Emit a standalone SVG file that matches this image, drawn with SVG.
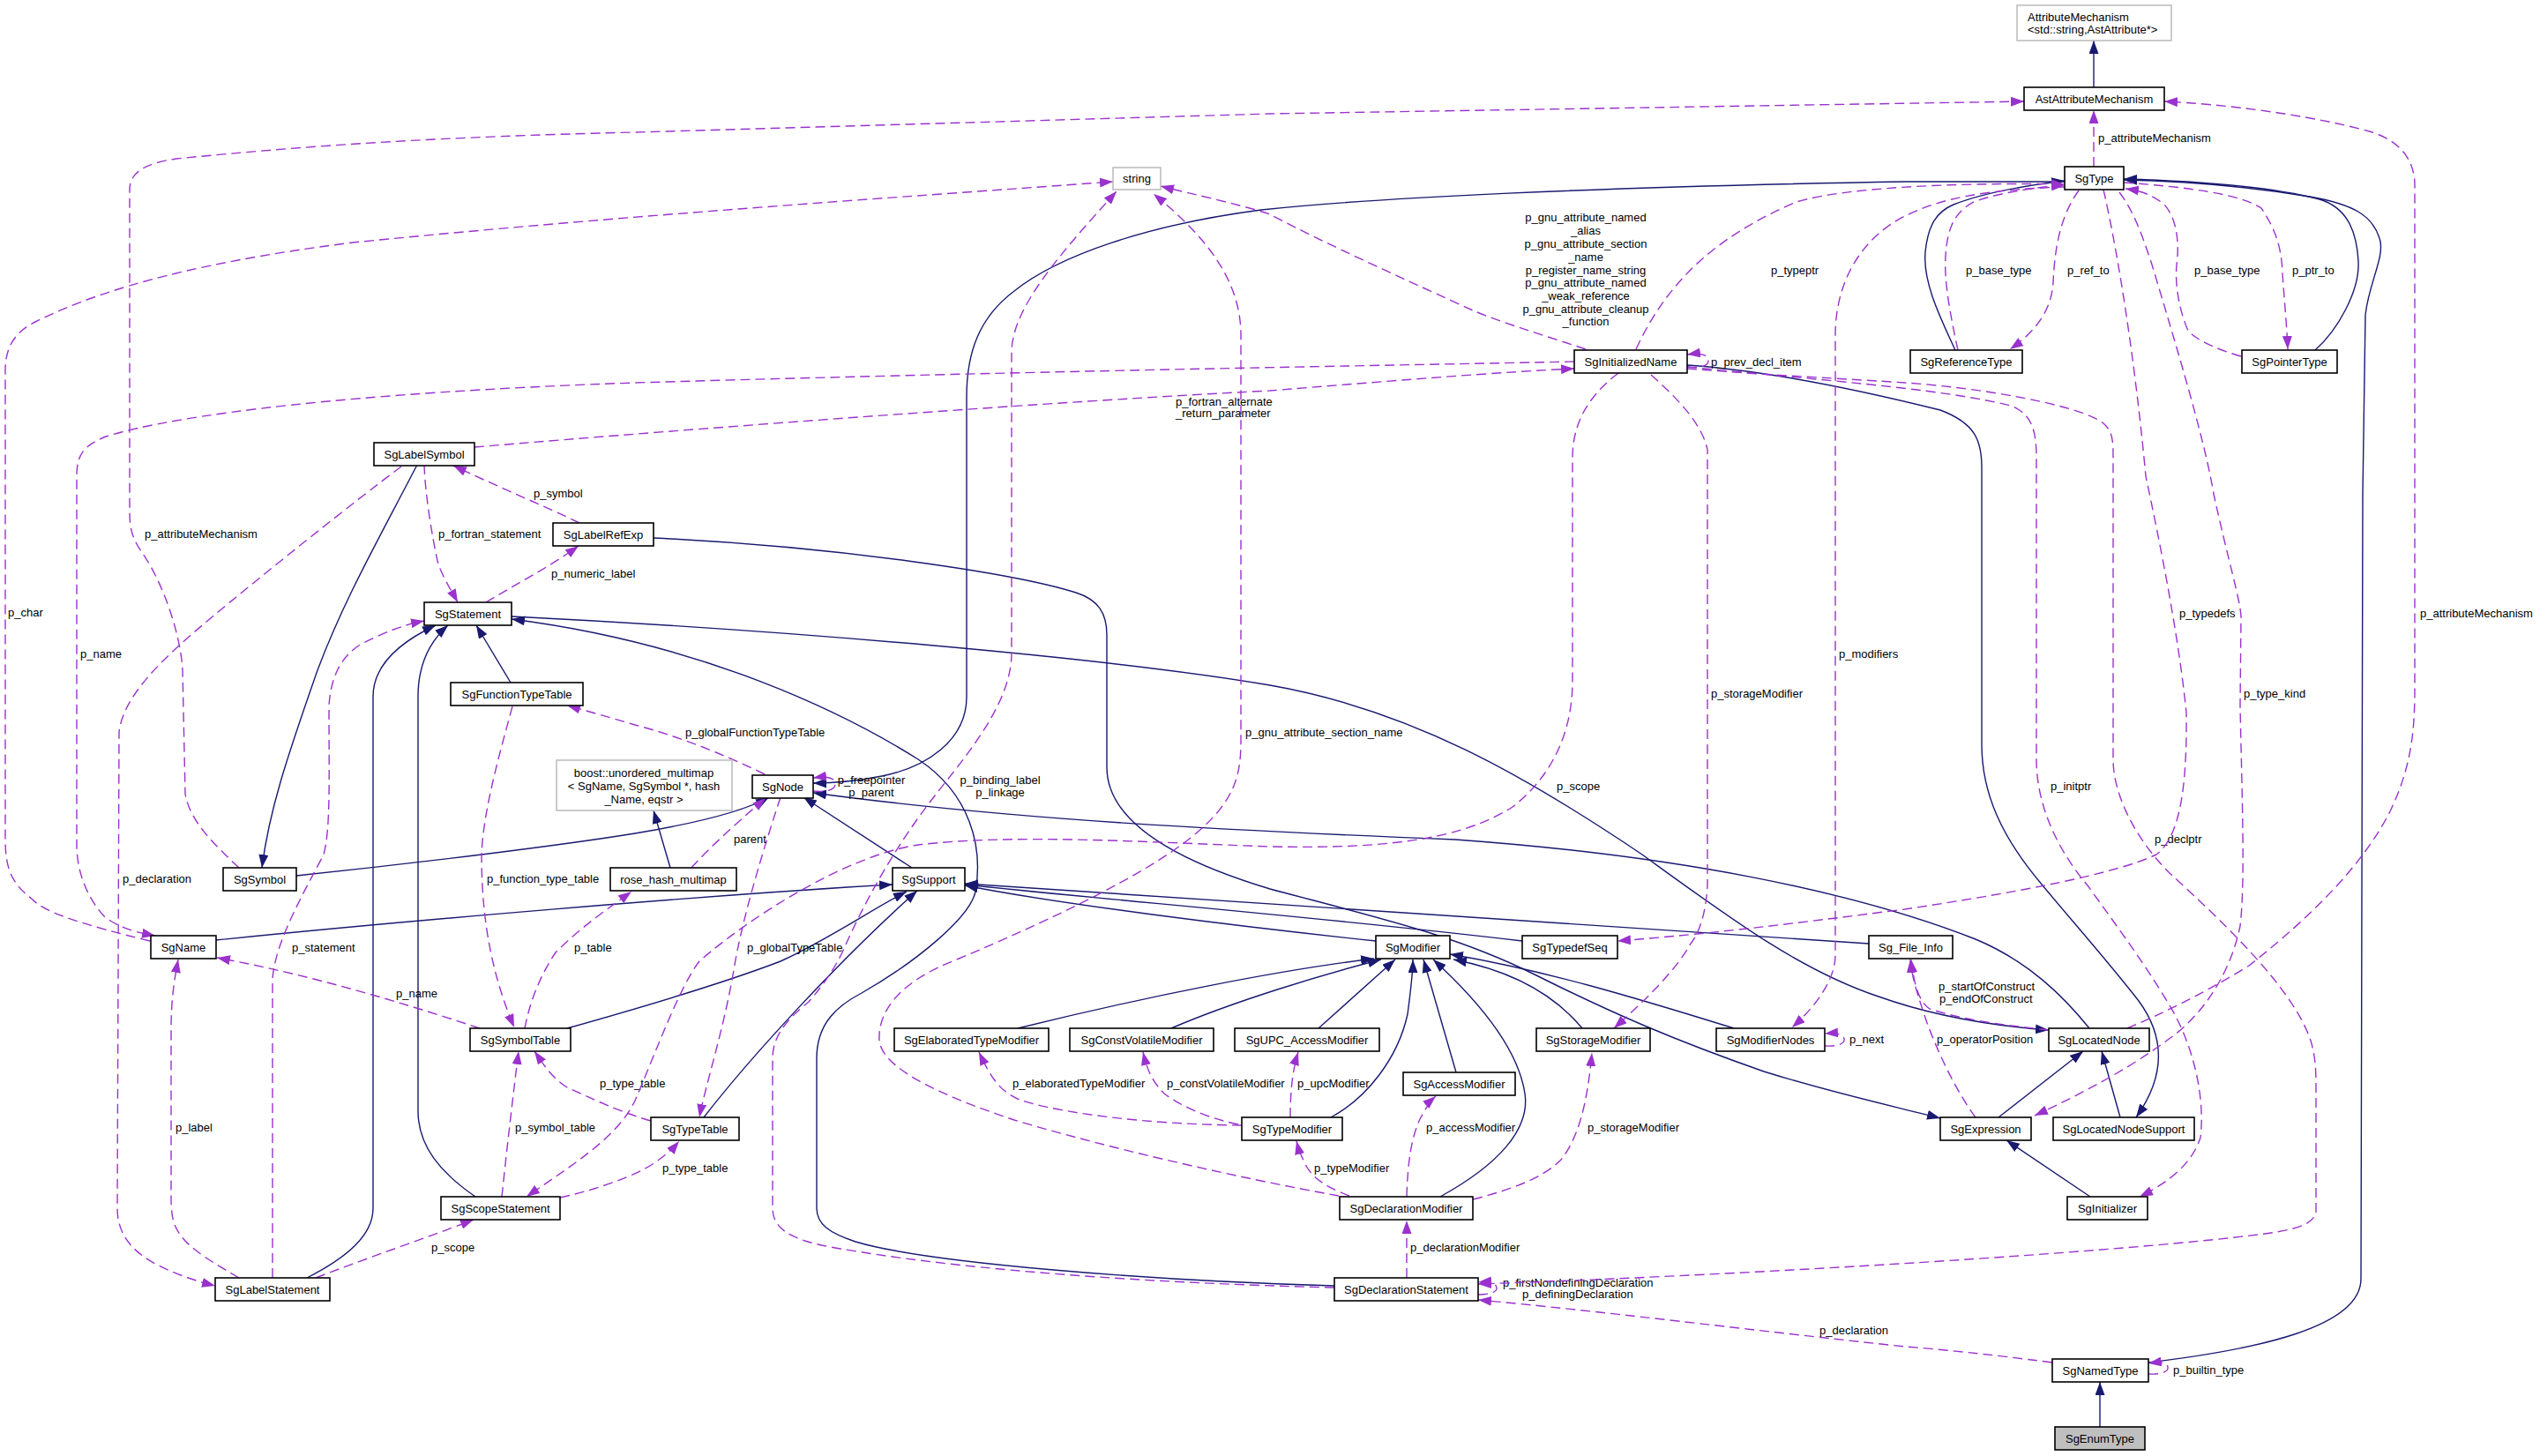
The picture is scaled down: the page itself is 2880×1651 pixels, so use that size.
<svg xmlns="http://www.w3.org/2000/svg" width="2880" height="1651" viewBox="0 0 2880 1651">
<style>
.node rect{fill:#fff;stroke:#000;stroke-width:1.6}
.ext rect{fill:#fff;stroke:#bfbfbf;stroke-width:1.6}
.cur rect{fill:#bfbfbf;stroke:#000;stroke-width:1.6}
text{font-family:"Liberation Sans",Arial,sans-serif;font-size:13px;fill:#000}
.node text,.cur text{text-anchor:middle}
.inh{fill:none;stroke:#191970;stroke-width:1.4;marker-end:url(#an)}
.use{fill:none;stroke:#9a32cd;stroke-width:1.4;stroke-dasharray:11,6;marker-end:url(#ap)}
</style>
<defs>
<marker id="an" markerUnits="userSpaceOnUse" markerWidth="15" markerHeight="11" viewBox="0 0 15 11" refX="15" refY="5.5" orient="auto"><path d="M0,0 L15,5.5 L0,11 z" fill="#191970"/></marker>
<marker id="ap" markerUnits="userSpaceOnUse" markerWidth="15" markerHeight="11" viewBox="0 0 15 11" refX="15" refY="5.5" orient="auto"><path d="M0,0 L15,5.5 L0,11 z" fill="#9a32cd"/></marker>
</defs>
<rect width="2880" height="1651" fill="#fff"/>
<g id="connectors">
<path class="inh" d="M2374,99 L2374,46"/>
<path class="inh" d="M2217,397 C2200,360 2180,320 2183,286 C2186,255 2196,240 2215,232 C2250,218 2300,210 2341,205"/>
<path class="inh" d="M2625,397 C2650,375 2676,330 2674,296 C2672,260 2660,235 2630,226 C2570,210 2480,205 2408,203"/>
<path class="inh" d="M2436,1545 C2560,1530 2677,1505 2677,1450 L2679,560 L2682,357 C2686,320 2705,290 2698,270 C2690,245 2670,232 2619,223 C2540,210 2460,205 2408,204"/>
<path class="inh" d="M2381,1618 L2381,1567"/>
<path class="inh" d="M2341,206 L2160,206 C1800,212 1550,225 1430,238 C1300,255 1200,290 1150,330 C1110,360 1096,400 1096,450 L1096,790 C1096,840 1050,870 1000,880 C970,886 945,888 922,888"/>
<path class="inh" d="M473,527 C430,610 390,680 360,760 C325,860 305,920 297,984"/>
<path class="inh" d="M336,993 C480,978 640,958 720,945 C780,935 840,922 872,904"/>
<path class="inh" d="M245,1066 C450,1045 800,1015 1012,1003"/>
<path class="inh" d="M760,984 L741,919"/>
<path class="inh" d="M1034,984 L911,904"/>
<path class="inh" d="M579,774 L540,709"/>
<path class="inh" d="M539,1357 C500,1330 474,1300 474,1260 L474,790 C474,750 490,725 508,709"/>
<path class="inh" d="M348,1449 C395,1425 423,1400 423,1370 L423,790 C423,750 460,725 494,709"/>
<path class="inh" d="M1513,1458 C1300,1452 1050,1432 970,1408 C940,1398 926,1388 926,1370 L926,1200 C926,1160 950,1140 977,1126 C1040,1090 1100,1040 1106,1011 C1115,960 1100,900 1041,861 C960,810 800,730 580,702"/>
<path class="inh" d="M580,699 C900,715 1250,745 1440,777 C1600,805 1730,880 1862,969 C1960,1040 2040,1100 2130,1130 C2200,1155 2270,1164 2323,1168"/>
<path class="inh" d="M741,610 C950,620 1150,650 1220,672 C1245,680 1255,695 1255,720 L1255,870 C1255,930 1330,975 1440,1008 C1560,1040 1650,1060 1740,1105 C1830,1150 1900,1180 2000,1215 C2080,1240 2150,1255 2200,1268"/>
<path class="inh" d="M2369,1166 C2340,1130 2300,1090 2240,1065 C2100,1010 1900,970 1650,952 C1400,942 1150,930 922,899"/>
<path class="inh" d="M1560,1067 C1400,1050 1200,1025 1094,1004"/>
<path class="inh" d="M1726,1067 C1500,1040 1250,1020 1094,1003"/>
<path class="inh" d="M2119,1070 C1700,1040 1300,1015 1094,1002"/>
<path class="inh" d="M643,1166 C700,1150 820,1115 885,1090 C940,1065 990,1030 1028,1011"/>
<path class="inh" d="M798,1267 C850,1200 950,1090 1040,1010"/>
<path class="inh" d="M1154,1166 C1300,1130 1450,1100 1558,1087"/>
<path class="inh" d="M1328,1166 C1400,1135 1500,1105 1566,1088"/>
<path class="inh" d="M1495,1166 L1582,1088"/>
<path class="inh" d="M1509,1267 C1550,1245 1585,1200 1596,1150 C1600,1120 1602,1100 1602,1088"/>
<path class="inh" d="M1651,1216 L1614,1088"/>
<path class="inh" d="M1633,1357 C1700,1320 1735,1280 1729,1240 C1720,1180 1660,1120 1625,1088"/>
<path class="inh" d="M1794,1166 C1760,1125 1710,1100 1648,1088"/>
<path class="inh" d="M1966,1166 C1850,1130 1750,1100 1644,1082"/>
<path class="inh" d="M2266,1267 L2362,1192"/>
<path class="inh" d="M2404,1267 L2383,1192"/>
<path class="inh" d="M2370,1357 L2275,1293"/>
<path class="inh" d="M1913,414 C2000,420 2100,440 2200,465 C2240,480 2247,500 2247,530 L2247,844 C2247,900 2270,950 2316,1004 C2350,1045 2390,1090 2425,1135 C2458,1180 2452,1225 2422,1267"/>

<g><path class="use" d="M2374,189 L2374,125"/><text x="2379" y="161">p_attributeMechanism</text></g>
<g><path class="use" d="M271,984 C240,955 215,930 210,900 L207,760 C205,720 185,660 160,625 C150,610 147,600 147,580 L147,215 C147,195 165,185 200,180 C350,165 500,155 720,150 L1440,129 L2295,115"/><text x="164" y="610">p_attributeMechanism</text></g>
<g><path class="use" d="M2412,1166 C2450,1150 2500,1126 2550,1095 C2620,1040 2680,980 2710,920 C2734,870 2738,830 2738,780 L2738,210 C2738,180 2720,160 2690,150 C2620,130 2520,118 2454,115"/><text x="2744" y="700">p_attributeMechanism</text></g>
<g><path class="use" d="M170,1067 C100,1050 50,1035 37,1020 C10,1000 6,980 6,950 L6,420 C6,390 20,375 40,365 C100,335 200,300 400,275 C700,245 1000,225 1262,206"/><text x="9" y="699">p_char</text></g>
<g><path class="use" d="M1798,396 C1750,380 1700,365 1670,352 C1600,320 1500,275 1440,243 C1400,230 1350,220 1316,211"/>
<text x="1798" y="251" text-anchor="middle">p_gnu_attribute_named</text>
<text x="1798" y="266" text-anchor="middle">_alias</text>
<text x="1798" y="281" text-anchor="middle">p_gnu_attribute_section</text>
<text x="1798" y="296" text-anchor="middle">_name</text>
<text x="1798" y="311" text-anchor="middle">p_register_name_string</text>
<text x="1798" y="325" text-anchor="middle">p_gnu_attribute_named</text>
<text x="1798" y="340" text-anchor="middle">_weak_reference</text>
<text x="1798" y="355" text-anchor="middle">p_gnu_attribute_cleanup</text>
<text x="1798" y="369" text-anchor="middle">_function</text></g>
<g><path class="use" d="M1513,1460 C1300,1455 1100,1440 972,1419 C910,1410 876,1400 876,1370 L876,1200 C876,1170 900,1150 917,1136 C935,1115 945,1100 955,1080 C990,1000 1030,940 1064,897 C1110,840 1147,790 1147,740 L1147,400 C1147,350 1200,290 1266,217"/><text x="1134" y="889" text-anchor="middle">p_binding_label</text><text x="1134" y="903" text-anchor="middle">p_linkage</text></g>
<g><path class="use" d="M1518,1356 C1400,1335 1250,1300 1150,1270 C1060,1240 1000,1210 997,1180 C995,1140 1030,1110 1080,1090 C1200,1040 1300,990 1350,950 C1400,910 1407,880 1407,840 L1407,380 C1407,320 1370,270 1308,220"/><text x="1412" y="835">p_gnu_attribute_section_name</text></g>
<g><path class="use" d="M1855,396 C1890,320 1945,268 2037,229 C2100,210 2250,207 2341,209"/><text x="2008" y="311">p_typeptr</text></g>
<g><path class="use" d="M1913,416 C1930,418 1938,414 1937,408 C1936,402 1928,400 1913,402"/><text x="1940" y="415">p_prev_decl_item</text></g>
<g><path class="use" d="M538,507 C800,485 1200,455 1440,443 C1600,430 1700,422 1785,418"/><text x="1333" y="460">p_fortran_alternate</text><text x="1333" y="473">_return_parameter</text></g>
<g><path class="use" d="M1785,410 C1600,414 1200,420 720,434 C400,445 200,470 120,495 C95,505 87,515 87,540 L87,958 C87,990 100,1020 119,1040 C140,1055 160,1058 176,1061"/><text x="91" y="746">p_name</text></g>
<g><path class="use" d="M481,527 C482,560 490,610 497,640 C505,660 512,670 519,683"/><text x="497" y="610">p_fortran_statement</text></g>
<g><path class="use" d="M657,593 C620,575 560,550 514,528"/><text x="605" y="564">p_symbol</text></g>
<g><path class="use" d="M551,683 C580,665 620,645 656,619"/><text x="625" y="655">p_numeric_label</text></g>
<g><path class="use" d="M455,529 C400,570 300,650 240,700 C180,750 140,790 135,830 L133,1370 C133,1400 150,1420 180,1435 C200,1445 220,1452 244,1458"/><text x="139" y="1001">p_declaration</text></g>
<g><path class="use" d="M271,1449 C230,1425 205,1410 197,1386 C194,1375 194,1365 194,1355 L194,1170 C194,1130 198,1110 202,1088"/><text x="199" y="1283">p_label</text></g>
<g><path class="use" d="M309,1449 L309,1110 C312,1070 340,1020 367,969 C375,940 373,880 373,800 C375,770 385,745 410,730 C440,715 460,708 481,704"/><text x="331" y="1079">p_statement</text></g>
<g><path class="use" d="M885,904 C860,980 840,1050 832,1100 C820,1170 800,1230 793,1267"/><text x="847" y="1079">p_globalTypeTable</text></g>
<g><path class="use" d="M867,878 C820,855 770,835 720,822 C690,813 665,806 643,800"/><text x="777" y="835">p_globalFunctionTypeTable</text></g>
<g><path class="use" d="M922,897 C940,899 948,894 947,888 C946,882 938,880 922,882"/><text x="988" y="889" text-anchor="middle">p_freepointer</text><text x="988" y="903" text-anchor="middle">p_parent</text></g>
<g><path class="use" d="M784,984 C810,955 845,925 868,905"/><text x="832" y="956">parent</text></g>
<g><path class="use" d="M595,1166 C600,1140 610,1110 630,1080 C660,1050 690,1030 716,1011"/><text x="651" y="1079">p_table</text></g>
<g><path class="use" d="M581,801 C565,860 548,920 546,969 C546,1050 560,1110 583,1165"/><text x="552" y="1001">p_function_type_table</text></g>
<g><path class="use" d="M544,1166 C450,1135 350,1105 246,1086"/><text x="449" y="1131">p_name</text></g>
<g><path class="use" d="M569,1357 C575,1300 582,1240 588,1192"/><text x="584" y="1283">p_symbol_table</text></g>
<g><path class="use" d="M738,1271 C700,1260 670,1245 643,1233 C625,1222 615,1205 606,1192"/><text x="680" y="1233">p_type_table</text></g>
<g><path class="use" d="M635,1358 C680,1348 720,1333 740,1320 C755,1310 765,1300 770,1294"/><text x="751" y="1329">p_type_table</text></g>
<g><path class="use" d="M1835,423 C1800,450 1783,480 1783,520 L1783,772 C1783,830 1760,880 1715,915 C1660,950 1580,963 1440,960 C1300,955 1150,945 1041,958 C960,970 850,1040 793,1090 C770,1120 745,1190 720,1248 C700,1290 650,1320 597,1357"/><text x="1765" y="896">p_scope</text></g>
<g><path class="use" d="M358,1449 C420,1425 480,1405 537,1383"/><text x="489" y="1419">p_scope</text></g>
<g><path class="use" d="M1676,1468 C1692,1468 1698,1464 1697,1460 C1696,1455 1690,1453 1676,1454"/><text x="1704" y="1459">p_firstNondefiningDeclaration</text><text x="1726" y="1472">p_definingDeclaration</text></g>
<g><path class="use" d="M2327,1545 C2250,1535 2200,1530 2160,1527 C2000,1510 1800,1485 1676,1474"/><text x="2063" y="1513">p_declaration</text></g>
<g><path class="use" d="M1913,418 C2000,425 2100,430 2160,434 C2250,440 2360,460 2385,480 C2396,490 2396,500 2396,520 L2396,861 C2396,900 2420,950 2460,990 C2520,1045 2600,1120 2620,1180 C2626,1200 2626,1215 2626,1240 L2626,1376 C2620,1390 2600,1395 2560,1400 C2400,1420 2000,1445 1676,1456"/><text x="2443" y="956">p_declptr</text></g>
<g><path class="use" d="M1913,416 C2050,430 2200,440 2280,460 C2305,470 2309,490 2309,520 L2309,861 C2309,910 2330,960 2367,1004 C2400,1050 2430,1090 2460,1140 C2490,1190 2500,1250 2495,1290 C2485,1320 2460,1340 2426,1357"/><text x="2325" y="896">p_initptr</text></g>
<g><path class="use" d="M2385,215 C2400,280 2420,400 2433,540 C2450,620 2470,720 2479,808 C2480,900 2470,950 2445,969 C2400,990 2300,1010 2160,1031 C2050,1045 1950,1058 1834,1067"/><text x="2471" y="700">p_typedefs</text></g>
<g><path class="use" d="M2403,218 C2420,240 2430,270 2440,300 C2470,400 2500,500 2510,560 C2525,630 2541,683 2541,700 L2540,800 C2542,900 2546,1000 2540,1050 C2530,1100 2500,1150 2458,1179 C2410,1215 2350,1245 2307,1265"/><text x="2544" y="791">p_type_kind</text></g>
<g><path class="use" d="M2341,212 C2250,215 2200,225 2160,245 C2110,270 2081,320 2081,380 L2081,1083 C2081,1110 2060,1140 2032,1165"/><text x="2085" y="746">p_modifiers</text></g>
<g><path class="use" d="M2357,216 C2340,240 2330,270 2328,321 C2326,350 2310,375 2279,396"/><text x="2344" y="311">p_ref_to</text></g>
<g><path class="use" d="M2220,397 C2212,360 2204,320 2206,290 C2208,260 2215,240 2240,228 C2270,218 2310,212 2341,210"/><text x="2229" y="311">p_base_type</text></g>
<g><path class="use" d="M2541,404 C2510,395 2490,385 2481,375 C2470,350 2466,320 2468,300 C2472,270 2466,245 2454,232 C2440,220 2425,216 2410,214"/><text x="2488" y="311">p_base_type</text></g>
<g><path class="use" d="M2408,207 C2480,212 2540,220 2564,236 C2580,260 2587,280 2588,310 C2590,340 2593,370 2594,396"/><text x="2599" y="311">p_ptr_to</text></g>
<g><path class="use" d="M2436,1558 C2452,1559 2459,1555 2458,1550 C2457,1545 2450,1544 2436,1546"/><text x="2464" y="1558">p_builtin_type</text></g>
<g><path class="use" d="M1872,425 C1900,450 1930,480 1936,510 L1936,1004 C1934,1040 1925,1060 1917,1070 C1900,1100 1870,1130 1830,1166"/><text x="1940" y="791">p_storageModifier</text></g>
<g><path class="use" d="M1670,1360 C1710,1350 1750,1336 1770,1315 C1790,1290 1800,1250 1805,1194"/><text x="1800" y="1283">p_storageModifier</text></g>
<g><path class="use" d="M1595,1357 C1596,1320 1600,1290 1610,1269 C1615,1260 1620,1250 1628,1243"/><text x="1617" y="1283">p_accessModifier</text></g>
<g><path class="use" d="M1530,1356 C1500,1345 1486,1333 1480,1320 C1475,1310 1472,1302 1470,1294"/><text x="1490" y="1329">p_typeModifier</text></g>
<g><path class="use" d="M1408,1276 C1300,1275 1200,1262 1156,1247 C1135,1238 1125,1225 1110,1193"/><text x="1148" y="1233">p_elaboratedTypeModifier</text></g>
<g><path class="use" d="M1404,1275 C1370,1268 1340,1255 1320,1240 C1305,1225 1300,1210 1296,1193"/><text x="1323" y="1233">p_constVolatileModifier</text></g>
<g><path class="use" d="M1463,1267 C1463,1240 1465,1215 1472,1193"/><text x="1471" y="1233">p_upcModifier</text></g>
<g><path class="use" d="M1595,1449 L1595,1384"/><text x="1599" y="1419">p_declarationModifier</text></g>
<g><path class="use" d="M2069,1186 C2085,1187 2092,1183 2091,1178 C2090,1173 2083,1171 2069,1172"/><text x="2097" y="1183">p_next</text></g>
<g><path class="use" d="M2323,1168 C2280,1163 2230,1158 2188,1144 C2175,1135 2170,1115 2167,1088"/><text x="2198" y="1123">p_startOfConstruct</text><text x="2199" y="1137">p_endOfConstruct</text></g>
<g><path class="use" d="M2240,1267 C2220,1240 2200,1200 2185,1160 C2175,1130 2168,1110 2166,1088"/><text x="2196" y="1183">p_operatorPosition</text></g>
</g>

<g id="node-AttributeMechanism" class="ext"><rect x="2287" y="6" width="175" height="40"/><text x="2299" y="23.5">AttributeMechanism</text><text x="2299" y="38">&lt;std::string,AstAttribute*&gt;</text></g>
<g id="node-AstAttributeMechanism" class="node"><rect x="2295" y="99" width="159" height="26"/><text x="2374.5" y="116.5">AstAttributeMechanism</text></g>
<g id="node-SgType" class="node"><rect x="2341" y="189" width="67" height="26"/><text x="2374.5" y="206.5">SgType</text></g>
<g id="node-string" class="ext"><rect x="1262" y="190" width="54" height="25"/><text x="1289" y="207" text-anchor="middle">string</text></g>
<g id="node-SgInitializedName" class="node"><rect x="1785" y="397" width="128" height="26"/><text x="1849" y="414.5">SgInitializedName</text></g>
<g id="node-SgReferenceType" class="node"><rect x="2166" y="397" width="127" height="26"/><text x="2229.5" y="414.5">SgReferenceType</text></g>
<g id="node-SgPointerType" class="node"><rect x="2542" y="397" width="108" height="26"/><text x="2596" y="414.5">SgPointerType</text></g>
<g id="node-SgLabelSymbol" class="node"><rect x="424" y="502" width="114" height="26"/><text x="481" y="519.5">SgLabelSymbol</text></g>
<g id="node-SgLabelRefExp" class="node"><rect x="627" y="593" width="114" height="26"/><text x="684" y="610.5">SgLabelRefExp</text></g>
<g id="node-SgStatement" class="node"><rect x="481" y="683" width="99" height="26"/><text x="530.5" y="700.5">SgStatement</text></g>
<g id="node-SgFunctionTypeTable" class="node"><rect x="511" y="774" width="150" height="26"/><text x="586" y="791.5">SgFunctionTypeTable</text></g>
<g id="node-boost" class="ext"><rect x="631" y="862" width="199" height="57"/><text x="730" y="881" text-anchor="middle">boost::unordered_multimap</text><text x="730" y="896" text-anchor="middle">&lt; SgName, SgSymbol *, hash</text><text x="730" y="911" text-anchor="middle">_Name, eqstr &gt;</text></g>
<g id="node-SgNode" class="node"><rect x="853" y="879" width="69" height="26"/><text x="887.5" y="896.5">SgNode</text></g>
<g id="node-SgSymbol" class="node"><rect x="253" y="984" width="83" height="26"/><text x="294.5" y="1001.5">SgSymbol</text></g>
<g id="node-rose_hash_multimap" class="node"><rect x="692" y="984" width="143" height="26"/><text x="763.5" y="1001.5">rose_hash_multimap</text></g>
<g id="node-SgSupport" class="node"><rect x="1012" y="984" width="82" height="26"/><text x="1053" y="1001.5">SgSupport</text></g>
<g id="node-SgName" class="node"><rect x="171" y="1061" width="74" height="26"/><text x="208" y="1078.5">SgName</text></g>
<g id="node-SgModifier" class="node"><rect x="1560" y="1061" width="84" height="26"/><text x="1602" y="1078.5">SgModifier</text></g>
<g id="node-SgTypedefSeq" class="node"><rect x="1726" y="1061" width="108" height="26"/><text x="1780" y="1078.5">SgTypedefSeq</text></g>
<g id="node-Sg_File_Info" class="node"><rect x="2119" y="1061" width="95" height="26"/><text x="2166.5" y="1078.5">Sg_File_Info</text></g>
<g id="node-SgSymbolTable" class="node"><rect x="533" y="1166" width="114" height="26"/><text x="590" y="1183.5">SgSymbolTable</text></g>
<g id="node-SgElaboratedTypeModifier" class="node"><rect x="1014" y="1166" width="175" height="26"/><text x="1101.5" y="1183.5">SgElaboratedTypeModifier</text></g>
<g id="node-SgConstVolatileModifier" class="node"><rect x="1213" y="1166" width="163" height="26"/><text x="1294.5" y="1183.5">SgConstVolatileModifier</text></g>
<g id="node-SgUPC_AccessModifier" class="node"><rect x="1400" y="1166" width="164" height="26"/><text x="1482" y="1183.5">SgUPC_AccessModifier</text></g>
<g id="node-SgStorageModifier" class="node"><rect x="1742" y="1166" width="129" height="26"/><text x="1806.5" y="1183.5">SgStorageModifier</text></g>
<g id="node-SgModifierNodes" class="node"><rect x="1946" y="1166" width="123" height="26"/><text x="2007.5" y="1183.5">SgModifierNodes</text></g>
<g id="node-SgLocatedNode" class="node"><rect x="2323" y="1166" width="114" height="26"/><text x="2380" y="1183.5">SgLocatedNode</text></g>
<g id="node-SgAccessModifier" class="node"><rect x="1591" y="1216" width="127" height="26"/><text x="1654.5" y="1233.5">SgAccessModifier</text></g>
<g id="node-SgTypeTable" class="node"><rect x="738" y="1267" width="100" height="26"/><text x="788" y="1284.5">SgTypeTable</text></g>
<g id="node-SgTypeModifier" class="node"><rect x="1408" y="1267" width="114" height="26"/><text x="1465" y="1284.5">SgTypeModifier</text></g>
<g id="node-SgExpression" class="node"><rect x="2200" y="1267" width="103" height="26"/><text x="2251.5" y="1284.5">SgExpression</text></g>
<g id="node-SgLocatedNodeSupport" class="node"><rect x="2328" y="1267" width="160" height="26"/><text x="2408" y="1284.5">SgLocatedNodeSupport</text></g>
<g id="node-SgScopeStatement" class="node"><rect x="500" y="1357" width="135" height="26"/><text x="567.5" y="1374.5">SgScopeStatement</text></g>
<g id="node-SgDeclarationModifier" class="node"><rect x="1519" y="1357" width="151" height="26"/><text x="1594.5" y="1374.5">SgDeclarationModifier</text></g>
<g id="node-SgInitializer" class="node"><rect x="2344" y="1357" width="91" height="26"/><text x="2389.5" y="1374.5">SgInitializer</text></g>
<g id="node-SgLabelStatement" class="node"><rect x="244" y="1449" width="130" height="26"/><text x="309" y="1466.5">SgLabelStatement</text></g>
<g id="node-SgDeclarationStatement" class="node"><rect x="1513" y="1449" width="163" height="26"/><text x="1594.5" y="1466.5">SgDeclarationStatement</text></g>
<g id="node-SgNamedType" class="node"><rect x="2327" y="1541" width="109" height="26"/><text x="2381.5" y="1558.5">SgNamedType</text></g>
<g id="node-SgEnumType" class="cur"><rect x="2330" y="1618" width="102" height="26"/><text x="2381" y="1635.5">SgEnumType</text></g>
</svg>
